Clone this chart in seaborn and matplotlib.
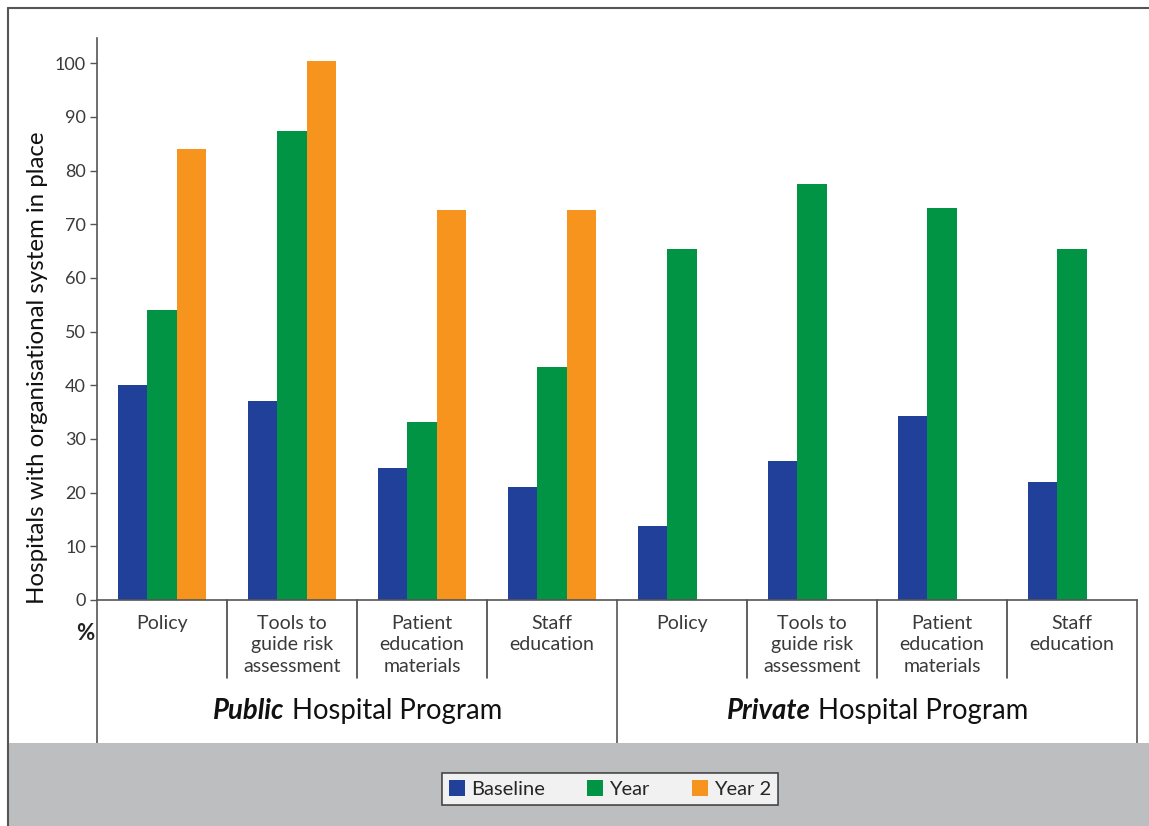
import matplotlib
matplotlib.use("Agg")
import matplotlib.pyplot as plt
import matplotlib.transforms as mtransforms
from matplotlib.patches import Rectangle, Patch
from matplotlib.lines import Line2D
import seaborn as sns
import pandas as pd

# ---------------- data ----------------
categories = ["Policy", "Tools to\nguide risk\nassessment", "Patient\neducation\nmaterials", "Staff\neducation"]
programs = ["Public", "Private"]
series = ["Baseline", "Year", "Year 2"]
public_baseline = [40, 37, 24.6, 21]
public_year = [54, 87.3, 33.2, 43.4]
public_year2 = [84, 100.4, 72.6, 72.6]
private_baseline = [13.8, 25.9, 34.3, 22]
private_year = [65.4, 77.5, 73, 65.4]
colors = ["#21409A", "#009444", "#F7941D"]
yticks = list(range(0, 101, 10))

rows = []
for i, c in enumerate(categories):
    rows.append(("pub%d" % i, "Baseline", public_baseline[i]))
    rows.append(("pub%d" % i, "Year", public_year[i]))
    rows.append(("pub%d" % i, "Year 2", public_year2[i]))
for i, c in enumerate(categories):
    rows.append(("pri%d" % i, "Baseline", private_baseline[i]))
    rows.append(("pri%d" % i, "Year", private_year[i]))
df = pd.DataFrame(rows, columns=["slot", "series", "value"])
order = ["pub%d" % i for i in range(4)] + ["pri%d" % i for i in range(4)]

# ---------------- figure ----------------
sns.set_theme(style="white")
plt.rcParams["font.family"] = ["Lato", "DejaVu Sans"]
W, H = 1149, 826
fig = plt.figure(figsize=(W / 100, H / 100), dpi=100)
fig.patch.set_facecolor("white")

# grey band and outer frame
fig.patches.append(Rectangle((8 / W, 0), 1, (H - 743) / H, transform=fig.transFigure,
                             facecolor="#BDBEC0", edgecolor="none", zorder=0))
fig.lines.append(Line2D([7.5 / W, 7.5 / W], [0, (H - 8) / H], transform=fig.transFigure, color="#555555", lw=1.5))
fig.lines.append(Line2D([7.5 / W, 1], [(H - 8) / H, (H - 8) / H], transform=fig.transFigure, color="#555555", lw=1.5))

x0, x1, ybot, ytop = 97, 1137, 600, 38
ax = fig.add_axes([x0 / W, (H - ybot) / H, (x1 - x0) / W, (ybot - ytop) / H])
ax.set_facecolor("none")

sns.barplot(data=df, x="slot", y="value", hue="series", order=order, hue_order=series,
            palette=colors, width=0.67, gap=0, saturation=1, errorbar=None, ax=ax,
            linewidth=0, legend=False)

ax.set_xlim(-0.5, 7.5)
ax.set_ylim(0, 104.7)
ax.set_yticks(yticks)
ax.set_yticklabels([str(t) for t in yticks], fontsize=13, color="#3a3a3a")
ax.tick_params(axis="y", direction="out", length=5, width=1, color="#555555", pad=3, left=True)
ax.set_xticks(range(8))
ax.set_xticklabels(categories * 2, fontsize=14, color="#3a3a3a", linespacing=1.3, va="top")
ax.tick_params(axis="x", length=0, pad=11)
ax.set_xlabel("")
ax.set_ylabel("")
for s in ["top", "right"]:
    ax.spines[s].set_visible(False)
for s in ["left", "bottom"]:
    ax.spines[s].set_color("#555555")
    ax.spines[s].set_linewidth(1.2)

# separators
trans = mtransforms.blended_transform_factory(ax.transData, ax.transAxes)
axh = ybot - ytop
for k in range(9):
    xpos = k - 0.5
    bottom_px = 743 if k in (0, 4, 8) else 678
    ax.add_line(Line2D([xpos, xpos], [0, -(bottom_px - ybot) / axh], transform=trans,
                       color="#444444" if k not in (0, 4, 8) else "#555555", lw=1.2, clip_on=False))

# y label and %
fig.text(38 / W, (H - 368) / H, "Hospitals with organisational system in place", rotation=90,
         ha="center", va="center", fontsize=17.3, color="#111111")
fig.text(85 / W, (H - 633) / H, "%", ha="center", va="center", fontsize=16, fontweight="bold", color="#222222")

# group labels
renderer = fig.canvas.get_renderer()
for centre_px, name in [((97 + 618) / 2, "Public"), ((618 + 1137) / 2, "Private")]:
    t1 = fig.text(0, (H - 711) / H, name, fontsize=19.8, fontweight="bold", fontstyle="italic",
                  ha="left", va="center", color="#111111")
    t2 = fig.text(0, (H - 711) / H, " Hospital Program", fontsize=19.8, ha="left", va="center", color="#111111")
    w1 = t1.get_window_extent(renderer).width
    w2 = t2.get_window_extent(renderer).width
    start = centre_px - (w1 + w2) / 2
    t1.set_x(start / W)
    t2.set_x((start + w1) / W)

# legend
handles = [Patch(facecolor=c, edgecolor="none") for c in colors]
leg = fig.legend(handles, series, loc="center", bbox_to_anchor=(610 / W, (H - 789) / H), ncol=3,
                 frameon=True, fancybox=False, fontsize=14.5, handlelength=0.8, handleheight=0.8,
                 handletextpad=0.3, columnspacing=2.1, borderpad=0.35)
leg.get_frame().set_edgecolor("#222222")
leg.get_frame().set_linewidth(1.2)
leg.get_frame().set_facecolor("white")

fig.savefig("out.png", dpi=100, facecolor="white")
